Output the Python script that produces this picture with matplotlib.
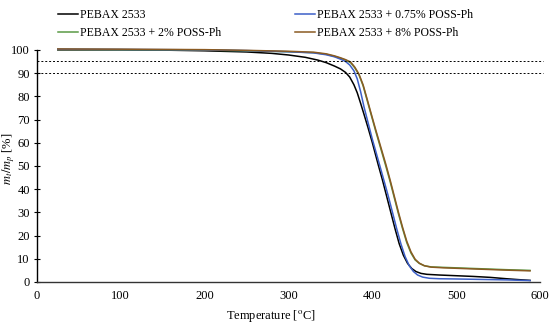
import numpy as np
import matplotlib
matplotlib.use('Agg')
import matplotlib.pyplot as plt

plt.rcParams['font.family'] = ['Liberation Serif', 'DejaVu Serif']
plt.rcParams['mathtext.fontset'] = 'stix'

# TGA curves (temperature in C, residual mass in %)
t_neat = [25, 100, 150, 200, 250, 280, 300, 320, 335, 345, 355, 362, 368, 373, 378, 382, 386, 390, 395, 400,
          407, 412, 417, 422, 427, 432, 437, 442, 447, 452, 458, 465, 480, 500, 520, 540, 560, 575, 588]
m_neat = [100, 100, 99.9, 99.6, 99.1, 98.5, 97.8, 96.8, 95.6, 94.5, 93, 91.8, 90.3, 88.3, 85, 81.5, 77, 72.3, 66.3, 60,
          50.5, 44, 37, 30, 23, 16.5, 11.5, 8, 5.8, 4.5, 3.7, 3.3, 3.0, 2.7, 2.4, 2.0, 1.4, 1.0, 0.7]

t_075 = [25, 100, 200, 250, 300, 330, 345, 355, 362, 368, 373, 378, 382, 386, 390, 395, 400, 409, 414, 419,
         424, 429, 434, 439, 444, 449, 454, 460, 468, 480, 500, 530, 560, 588]
m_075 = [100.3, 100.2, 100, 99.7, 99.2, 98.7, 97.9, 97, 96, 95, 93.5, 91, 87.5, 82, 75.5, 68.5, 61.5, 50, 43.5, 37,
         30, 23, 16.5, 11, 7, 4.5, 3, 2.1, 1.6, 1.4, 1.3, 1.1, 0.9, 0.6]

t_2 = [25, 100, 200, 250, 300, 330, 345, 355, 362, 368, 374, 379, 384, 389, 394, 399, 404, 410, 416, 421,
       426, 431, 436, 441, 446, 451, 456, 462, 470, 485, 500, 530, 560, 588]
m_2 = [100.2, 100.1, 99.9, 99.6, 99.2, 98.8, 98.1, 97.2, 96.4, 95.6, 94.5, 92.3, 89.3, 84.5, 78, 71.5, 65, 57.5, 50, 43.5,
       36.5, 29.5, 23, 17, 12.5, 9.5, 8, 7, 6.5, 6.3, 6.1, 5.7, 5.3, 5.0]

t_8 = [25, 100, 200, 250, 300, 330, 345, 355, 362, 368, 374, 379, 384, 389, 394, 399, 404, 410, 416, 421,
       426, 431, 436, 441, 446, 451, 456, 462, 470, 485, 500, 530, 560, 588]
m_8 = [100.4, 100.3, 100.1, 99.8, 99.4, 99, 98.3, 97.4, 96.6, 95.8, 94.8, 92.6, 89.6, 84.9, 78.5, 72, 65.6, 58.2, 50.8, 44.2,
       37.2, 30.2, 23.6, 17.6, 13, 9.8, 8.1, 7, 6.4, 6.1, 5.9, 5.5, 5.1, 4.8]

ref_levels = [95, 90]

fig = plt.figure(figsize=(5.5, 3.26), dpi=100)
ax = fig.add_axes([0.067, 0.135, 0.915, 0.712])

l1, = ax.plot(t_neat, m_neat, color='black', lw=1.1, label='PEBAX 2533', clip_on=False)
l3, = ax.plot(t_2, m_2, color='#5a9a45', lw=1.1, label='PEBAX 2533 + 2% POSS-Ph', clip_on=False)
l2, = ax.plot(t_075, m_075, color='#3c5fc8', lw=1.1, label='PEBAX 2533 + 0.75% POSS-Ph', clip_on=False)
l4, = ax.plot(t_8, m_8, color='#8a5a22', lw=1.1, label='PEBAX 2533 + 8% POSS-Ph', clip_on=False)

for lv in ref_levels:
    ax.hlines(lv, 0, 603, colors='black', linestyles=(0, (2, 2)), lw=0.7, clip_on=False)

ax.set_xlim(0, 600)
ax.set_ylim(0, 100)
ax.set_xticks(range(0, 601, 100))
ax.set_yticks(range(0, 101, 10))
ax.tick_params(axis='x', length=0, labelsize=9, pad=6)
ax.tick_params(axis='y', direction='inout', length=4, width=0.8, labelsize=9, pad=3)
ax.spines['top'].set_visible(False)
ax.spines['right'].set_visible(False)
ax.spines['left'].set_linewidth(1.0)
ax.spines['bottom'].set_linewidth(1.0)
ax.spines['bottom'].set_color('#333333')

ax.set_xlabel(r'Temperature [$^{\rm o}$C]', fontsize=9)
ax.xaxis.set_label_coords(0.465, -0.11)
ax.set_ylabel(r'$m_t/m_p$ [%]', fontsize=9)
ax.yaxis.set_label_coords(-0.040, 0.53)

fig.legend(handles=[l1, l3, l2, l4], loc='upper left', bbox_to_anchor=(0.09, 0.998), ncol=2,
           frameon=False, fontsize=8.5, handlelength=1.7, handletextpad=0.2,
           columnspacing=6.2, labelspacing=0.55, borderaxespad=0.3)

fig.savefig('out.png', dpi=100)
